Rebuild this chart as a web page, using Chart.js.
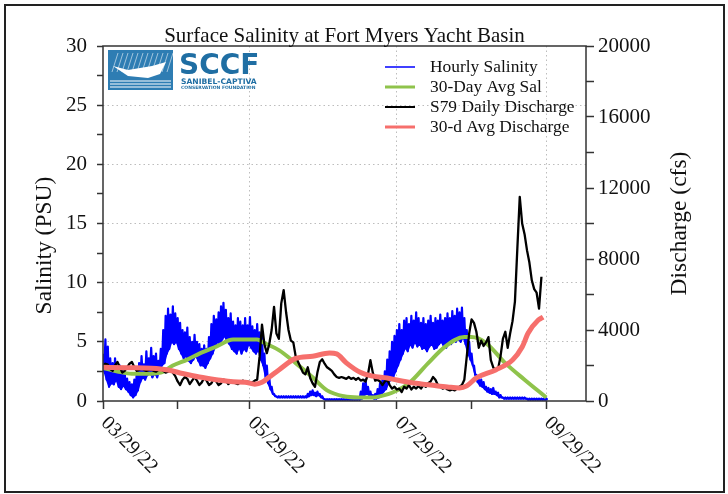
<!DOCTYPE html>
<html>
<head>
<meta charset="utf-8">
<script src="https://cdn.jsdelivr.net/npm/chart.js@4.4.0/dist/chart.umd.min.js"></script>
<style>
html, body { margin: 0; padding: 0; background: #fff; }
#wrap { width: 728px; height: 494px; position: relative; }
</style>
</head>
<body>
<div id="wrap"><canvas id="chart" width="728" height="494"></canvas></div>
<script>
// days counted from 03/29/22
const monthTickDays = [0, 31, 61, 92, 122, 153, 184];
const dateLabelDays = [0, 61, 122, 184];
const dateLabels = ['03/29/22', '05/29/22', '07/29/22', '09/29/22'];
const salLabels = [0, 5, 10, 15, 20, 25, 30];
const dischargeLabels = [0, 4000, 8000, 12000, 16000, 20000];

// Hourly salinity band: daily high / low (PSU), days 0..184
const salHi = [
  4.0, 5.2, 4.6, 3.6, 3.2, 3.6, 2.9, 3.0, 2.6, 2.4,
  1.9, 1.6, 1.4, 1.8, 2.4, 3.2, 3.8, 3.1, 4.2, 3.6,
  4.5, 3.8, 4.0, 3.4, 4.4, 6.0, 7.2, 7.8, 7.3, 8.0,
  7.4, 7.0, 6.6, 6.0, 5.8, 6.2, 5.4, 5.0, 5.6, 5.0,
  4.8, 4.4, 4.7, 4.4, 5.4, 6.5, 7.2, 6.9, 7.5, 8.0,
  8.3, 7.7, 7.0, 7.4, 6.7, 6.4, 7.0, 6.7, 6.4, 7.0,
  6.4, 7.1, 6.3, 6.0, 6.5, 5.8, 5.4, 4.0, 3.0, 2.0,
  1.2, 0.6, 0.4, 0.4, 0.4, 0.4, 0.4, 0.4, 0.4, 0.4,
  0.4, 0.4, 0.4, 0.4, 0.4, 0.6, 0.8, 0.9, 0.7, 0.8,
  0.6, 0.4, 0.15, 0.15, 0.15, 0.15, 0.15, 0.15, 0.15, 0.15,
  0.15, 0.15, 0.15, 0.15, 0.15, 0.15, 0.3, 0.8, 1.5, 1.8,
  1.2, 0.8, 0.5, 0.6, 1.0, 1.5, 1.8, 2.5, 3.5, 4.2,
  5.0, 5.5, 6.0, 6.5, 6.0, 6.8, 7.0, 6.5, 7.2, 6.8,
  7.5, 7.0, 6.6, 7.0, 6.5, 6.8, 7.2, 6.6, 7.0, 6.8,
  7.3, 6.8, 7.0, 7.4, 7.0, 7.6, 7.2, 7.8, 7.5, 7.9,
  7.0, 6.0, 5.0, 4.0, 3.0, 2.2, 1.8, 1.8, 1.6, 1.2,
  1.1, 1.0, 1.1, 0.8, 0.7, 0.5, 0.3, 0.3, 0.3, 0.3,
  0.3, 0.3, 0.3, 0.3, 0.3, 0.3, 0.2, 0.2, 0.2, 0.2,
  0.2, 0.2, 0.2, 0.2, 0.2
];
const salLo = [
  2.5, 1.8, 1.2, 1.5, 1.4, 1.8, 1.2, 1.0, 1.3, 1.0,
  0.8, 0.5, 0.3, 0.5, 0.9, 1.6, 2.0, 1.8, 2.2, 2.4,
  2.0, 2.3, 2.0, 2.6, 3.0, 3.2, 4.0, 4.4, 5.0, 4.8,
  5.0, 4.4, 4.0, 3.6, 3.8, 3.4, 3.2, 3.5, 3.8, 3.4,
  3.0, 3.0, 2.8, 3.2, 3.6, 4.0, 4.5, 5.0, 4.8, 5.2,
  5.5, 5.0, 4.8, 4.4, 4.2, 4.0, 4.5, 4.0, 4.4, 4.2,
  4.8, 4.5, 4.2, 4.0, 4.3, 3.5, 3.0, 2.0, 1.5, 1.0,
  0.6, 0.4, 0.3, 0.3, 0.3, 0.3, 0.3, 0.3, 0.3, 0.3,
  0.3, 0.3, 0.3, 0.3, 0.3, 0.4, 0.5, 0.5, 0.4, 0.5,
  0.3, 0.2, 0.1, 0.1, 0.1, 0.1, 0.1, 0.1, 0.1, 0.1,
  0.1, 0.1, 0.1, 0.1, 0.1, 0.1, 0.1, 0.2, 0.5, 0.6,
  0.5, 0.3, 0.2, 0.2, 0.3, 0.5, 0.8, 1.0, 1.5, 1.8,
  2.0, 2.5, 3.0, 3.5, 4.0, 4.5, 4.2, 4.8, 4.5, 5.0,
  4.6, 4.8, 4.4, 4.5, 4.2, 4.6, 4.8, 4.4, 4.5, 4.8,
  5.0, 4.6, 4.5, 5.0, 4.8, 5.2, 5.0, 5.2, 5.0, 5.4,
  4.8, 4.0, 3.5, 3.0, 2.2, 1.6, 1.3, 1.2, 1.0, 0.8,
  0.7, 0.6, 0.6, 0.5, 0.3, 0.3, 0.2, 0.2, 0.2, 0.2,
  0.2, 0.2, 0.2, 0.2, 0.2, 0.2, 0.1, 0.1, 0.1, 0.1,
  0.1, 0.1, 0.1, 0.1, 0.1
];

// 30-day average salinity (day, PSU)
const avgSalDays = [0, 6, 12, 18, 24, 29, 35, 40, 47, 54, 60, 64, 67, 73, 80, 87, 93, 100, 106, 112, 116, 120, 127, 135, 142, 150, 153, 159, 167, 175, 184];
const avgSalVals = [2.8, 2.5, 2.3, 2.3, 2.4, 3.0, 3.5, 4.0, 4.6, 5.2, 5.2, 5.2, 4.9, 4.3, 3.2, 2.0, 0.9, 0.4, 0.3, 0.3, 0.45, 0.7, 1.5, 3.2, 4.6, 5.4, 5.4, 4.9, 3.2, 1.8, 0.3];

// S79 daily discharge (cfs), days 0..182
const dailyQ = [
  2000, 2100, 2050, 1800, 1700, 2000, 2200, 1900, 1600, 1700,
  1900, 2100, 2200, 1900, 1700, 1750, 1850, 1750, 1700, 1750,
  1800, 1700, 1650, 1750, 1800, 1700, 1600, 1650, 1700, 1600,
  1400, 1100, 900, 1200, 1350, 1250, 950, 1150, 1350, 1150,
  900, 1050, 1300, 1150, 900, 1000, 1250, 1100, 900, 1000,
  1200, 1150, 950, 1050, 1100, 1000, 950, 1050, 1150, 1100,
  1100, 1050, 1050, 1150, 1200, 2500, 4300, 3200, 2700, 3200,
  4000, 5300, 3800, 3500, 5500, 6250, 5000, 4000, 3400, 3300,
  2500, 2200, 1900, 1600, 1500, 1900, 1300, 1000, 800, 1600,
  2200, 2350, 2100, 1900, 1800, 1700, 1500, 1350, 1300, 1350,
  1300, 1250, 1350, 1250, 1300, 1200, 1300, 1150, 1200, 1100,
  1500, 2300, 1600, 1150, 1200, 1100, 900, 1100, 1200, 900,
  700, 800, 650, 700, 500, 800, 700, 900, 650, 800,
  700, 850, 700, 900, 800, 1000, 1100, 1350, 1200, 900,
  800, 700, 750, 650, 600, 650, 600, 700, 800, 900,
  1200, 2500, 3800, 4600, 4400, 3900, 3000, 3400, 3100, 3300,
  3600, 2300, 1900, 1700, 1800, 2500, 3500, 3900, 3000, 3800,
  4500, 5600, 8600, 11500, 10000, 9400, 8500, 7800, 6800, 6300,
  6100, 5200, 7000
];

// 30-day average discharge (day, cfs)
const avgQDays = [0, 10, 20, 27, 33, 40, 47, 54, 59, 63, 66, 69, 73, 80, 87, 94, 97, 101, 107, 112, 118, 122, 129, 136, 143, 148, 151, 155, 163, 170, 174, 176.5, 180.7, 182.7];
const avgQVals = [1900, 1880, 1850, 1750, 1550, 1350, 1200, 1080, 1060, 950, 1050, 1350, 1750, 2400, 2520, 2700, 2650, 2150, 1600, 1400, 1300, 1180, 1010, 900, 790, 730, 850, 1300, 1750, 2310, 3040, 3830, 4560, 4730];

const serif = '"Liberation Serif", "Times New Roman", serif';

function bandPoints() {
  const pts = [];
  for (let d = 0; d < salHi.length; d++) {
    pts.push({ x: d, y: salHi[d] });
    pts.push({ x: d + 0.5, y: salLo[d] });
  }
  return pts;
}

function pairs(xs, ys) {
  return xs.map((x, i) => ({ x: x, y: ys[i] }));
}

const decor = {
  id: 'decor',
  afterDatasetsDraw(chart) {
    const ctx = chart.ctx;
    const a = chart.chartArea;
    const xs = chart.scales.x, yl = chart.scales.y, yr = chart.scales.y2;
    ctx.save();

    // plot frame
    ctx.strokeStyle = '#333';
    ctx.lineWidth = 1.5;
    ctx.strokeRect(a.left, a.top, a.right - a.left, a.bottom - a.top);

    // outer frame
    ctx.strokeStyle = '#222';
    ctx.lineWidth = 2;
    ctx.strokeRect(5, 5, 719, 487);

    ctx.fillStyle = '#111';
    // title
    ctx.font = '21px ' + serif;
    ctx.textAlign = 'center';
    ctx.textBaseline = 'alphabetic';
    ctx.fillText('Surface Salinity at Fort Myers Yacht Basin', (a.left + a.right) / 2, 42);

    // left tick labels
    ctx.font = '21px ' + serif;
    ctx.textAlign = 'right';
    ctx.textBaseline = 'middle';
    salLabels.forEach(v => ctx.fillText(String(v), a.left - 16, yl.getPixelForValue(v)));

    // right tick labels
    ctx.textAlign = 'left';
    dischargeLabels.forEach(v => ctx.fillText(String(v), a.right + 12, yr.getPixelForValue(v)));

    // date labels, rotated
    ctx.font = '20px ' + serif;
    dateLabelDays.forEach((d, i) => {
      ctx.save();
      ctx.translate(xs.getPixelForValue(d) + 1, a.bottom + 19);
      ctx.rotate(Math.PI / 4);
      ctx.textAlign = 'left';
      ctx.fillText(dateLabels[i], 0, 0);
      ctx.restore();
    });

    // axis titles
    ctx.font = '23.5px ' + serif;
    ctx.textAlign = 'center';
    ctx.save();
    ctx.translate(45, (a.top + a.bottom) / 2 + 22);
    ctx.rotate(-Math.PI / 2);
    ctx.fillText('Salinity (PSU)', 0, 0);
    ctx.restore();
    ctx.save();
    ctx.translate(680, (a.top + a.bottom) / 2);
    ctx.rotate(-Math.PI / 2);
    ctx.fillText('Discharge (cfs)', 0, 0);
    ctx.restore();

    // legend
    ctx.font = '17.4px ' + serif;
    ctx.textAlign = 'left';
    const legendWidths = [1.5, 3, 2, 3];
    chart.data.datasets.filter(ds => !ds.noLegend).forEach((ds, i) => {
      const y = 67 + i * 20;
      ctx.strokeStyle = ds.borderColor;
      ctx.lineWidth = legendWidths[i];
      ctx.beginPath();
      ctx.moveTo(385, y);
      ctx.lineTo(415, y);
      ctx.stroke();
      ctx.fillStyle = '#111';
      ctx.fillText(ds.label, 430, y);
    });

    // SCCF logo
    ctx.fillStyle = '#2e7db3';
    ctx.fillRect(108, 50, 65, 40);
    ctx.strokeStyle = 'rgba(255,255,255,0.55)';
    ctx.lineWidth = 1;
    for (let k = 0; k < 12; k++) {
      ctx.beginPath();
      ctx.moveTo(112 + k * 5, 72);
      ctx.lineTo(118 + k * 5, 53);
      ctx.stroke();
    }
    ctx.fillStyle = '#fff';
    ctx.beginPath();
    ctx.moveTo(113, 66);
    ctx.lineTo(128, 70);
    ctx.lineTo(152, 66);
    ctx.lineTo(166, 62);
    ctx.lineTo(160, 74);
    ctx.lineTo(148, 78);
    ctx.lineTo(128, 76);
    ctx.closePath();
    ctx.fill();
    ctx.strokeStyle = '#fff';
    ctx.lineWidth = 1.2;
    [81, 84, 87].forEach(y => {
      ctx.beginPath();
      ctx.moveTo(110, y);
      ctx.lineTo(171, y);
      ctx.stroke();
    });
    ctx.fillStyle = '#1f6ea3';
    ctx.font = 'bold 28px "DejaVu Sans", sans-serif';
    ctx.textAlign = 'left';
    ctx.textBaseline = 'alphabetic';
    ctx.fillText('SCCF', 179, 74);
    ctx.font = 'bold 7.6px "DejaVu Sans", sans-serif';
    ctx.fillText('SANIBEL-CAPTIVA', 181, 83.5);
    ctx.font = 'bold 4.5px "DejaVu Sans", sans-serif';
    ctx.fillText('CONSERVATION FOUNDATION', 181, 89);

    ctx.restore();
  }
};

const dotted = [1.5, 3];
const gridGrey = '#bdbdbd';

new Chart(document.getElementById('chart'), {
  type: 'line',
  data: {
    datasets: [
      {
        label: 'Hourly Salinity',
        data: bandPoints(),
        yAxisID: 'y',
        borderColor: '#0000ff',
        backgroundColor: '#0000ff',
        borderWidth: 2.2,
        borderJoinStyle: 'round',
        pointRadius: 0,
        tension: 0,
        fill: '+1',
        order: 5
      },
      {
        label: 'band floor',
        noLegend: true,
        data: salLo.map((v, d) => ({ x: d + 0.5, y: v })),
        yAxisID: 'y',
        borderColor: '#0000ff',
        borderWidth: 1.5,
        borderJoinStyle: 'round',
        pointRadius: 0,
        tension: 0,
        order: 5
      },
      {
        label: '30-Day Avg Sal',
        data: pairs(avgSalDays, avgSalVals),
        yAxisID: 'y',
        borderColor: '#8fc34b',
        borderWidth: 4,
        pointRadius: 0,
        cubicInterpolationMode: 'monotone',
        order: 3
      },
      {
        label: 'S79 Daily Discharge',
        data: dailyQ.map((q, d) => ({ x: d, y: q })),
        yAxisID: 'y2',
        borderColor: '#000000',
        borderWidth: 2.3,
        borderJoinStyle: 'round',
        pointRadius: 0,
        tension: 0,
        order: 2
      },
      {
        label: '30-d Avg Discharge',
        data: pairs(avgQDays, avgQVals),
        yAxisID: 'y2',
        borderColor: '#f66f6c',
        borderWidth: 5,
        pointRadius: 0,
        cubicInterpolationMode: 'monotone',
        order: 1
      }
    ]
  },
  options: {
    responsive: false,
    animation: false,
    devicePixelRatio: 1,
    layout: { padding: { left: 97, right: 134, top: 46, bottom: 85 } },
    plugins: {
      legend: { display: false },
      title: { display: false },
      tooltip: { enabled: false },
      filler: { propagate: false }
    },
    scales: {
      x: {
        type: 'linear',
        min: 0,
        max: 200.5,
        afterBuildTicks: s => { s.ticks = monthTickDays.map(v => ({ value: v })); },
        ticks: { display: false },
        grid: {
          color: c => (c.tick && dateLabelDays.includes(c.tick.value) && c.tick.value !== 0) ? gridGrey : 'rgba(0,0,0,0)',
          lineWidth: 1,
          tickLength: 8,
          tickColor: '#333',
          tickWidth: 1.5
        },
        border: { display: false, dash: dotted }
      },
      y: {
        position: 'left',
        min: 0,
        max: 30,
        ticks: { display: false, stepSize: 2.5, maxTicksLimit: 100 },
        grid: {
          color: c => (c.tick && c.tick.value % 5 === 0 && c.tick.value > 0 && c.tick.value < 30) ? gridGrey : 'rgba(0,0,0,0)',
          lineWidth: 1,
          tickLength: 6,
          tickColor: '#333',
          tickWidth: 1.5
        },
        border: { display: false, dash: dotted }
      },
      y2: {
        position: 'right',
        min: 0,
        max: 20000,
        ticks: { display: false, stepSize: 2000, maxTicksLimit: 100 },
        grid: {
          drawOnChartArea: false,
          tickLength: 8,
          tickColor: '#333',
          tickWidth: 1.5
        },
        border: { display: false }
      }
    }
  },
  plugins: [decor]
});
</script>
</body>
</html>
